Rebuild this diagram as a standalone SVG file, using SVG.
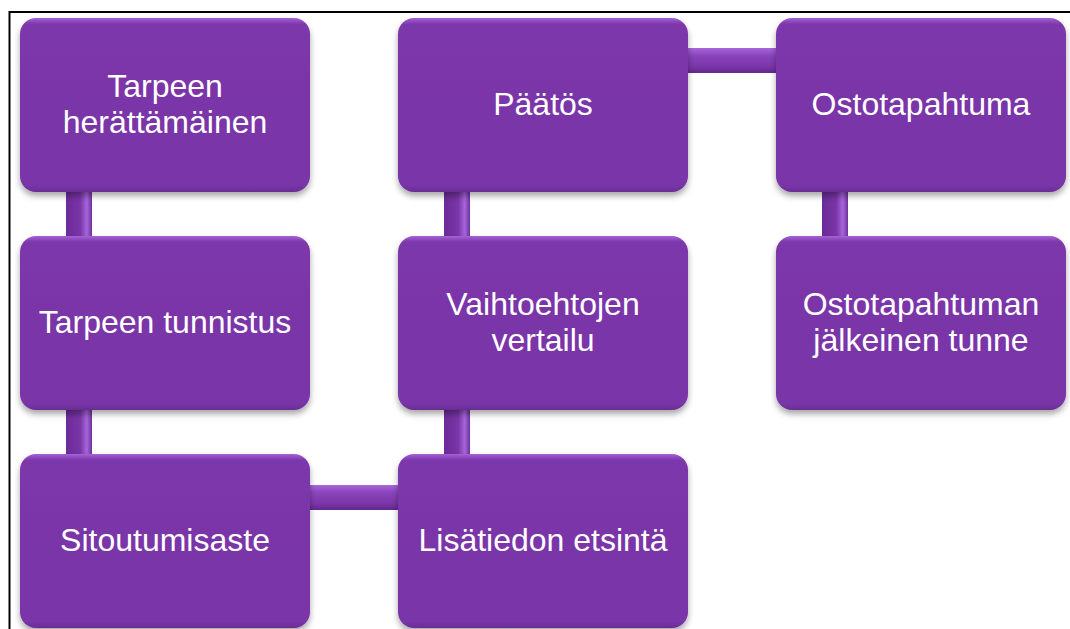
<svg xmlns="http://www.w3.org/2000/svg" width="1070" height="629" viewBox="0 0 1070 629">
  <defs>
    <linearGradient id="boxFill" x1="0" y1="0" x2="0" y2="1">
      <stop offset="0" stop-color="#a562d6"/>
      <stop offset="0.035" stop-color="#7c38ab"/>
      <stop offset="0.5" stop-color="#7a35a8"/>
      <stop offset="0.96" stop-color="#7a36a9"/>
      <stop offset="1" stop-color="#6a2c94"/>
    </linearGradient>
    <linearGradient id="vConn" x1="0" y1="0" x2="1" y2="0">
      <stop offset="0" stop-color="#6b2b97"/>
      <stop offset="0.55" stop-color="#7a35a8"/>
      <stop offset="0.8" stop-color="#a766dc"/>
      <stop offset="1" stop-color="#6f2f9a"/>
    </linearGradient>
    <linearGradient id="hConn" x1="0" y1="0" x2="0" y2="1">
      <stop offset="0" stop-color="#a766dc"/>
      <stop offset="0.3" stop-color="#8a45bc"/>
      <stop offset="0.75" stop-color="#7a35a8"/>
      <stop offset="1" stop-color="#62278c"/>
    </linearGradient>
    <filter id="shadow" x="-10%" y="-10%" width="120%" height="125%">
      <feGaussianBlur in="SourceAlpha" stdDeviation="3"/>
      <feOffset dx="0" dy="4" result="b"/>
      <feComponentTransfer><feFuncA type="linear" slope="0.35"/></feComponentTransfer>
      <feMerge><feMergeNode/><feMergeNode in="SourceGraphic"/></feMerge>
    </filter>
  </defs>
  <style>
    .box { fill: url(#boxFill); filter: url(#shadow); }
    .vc { fill: url(#vConn); }
    .hc { fill: url(#hConn); }
    .lbl { font-family: "Liberation Sans", Arial, sans-serif; font-size: 32px; fill: #ffffff; text-anchor: middle; }
    .frame { stroke: #000000; stroke-width: 2; fill: none; }
  </style>
  <rect width="1070" height="629" fill="#ffffff"/>
  <path class="frame" d="M9.5,629 L9.5,12 L1070,12"/>

  <g id="connectors">
    <rect class="vc" x="66" y="186" width="26" height="56"/>
    <rect class="vc" x="66" y="404" width="26" height="56"/>
    <rect class="hc" x="306" y="485" width="96" height="25"/>
    <rect class="vc" x="444" y="404" width="26" height="56"/>
    <rect class="vc" x="444" y="186" width="26" height="56"/>
    <rect class="hc" x="684" y="48" width="96" height="25"/>
    <rect class="vc" x="822" y="186" width="26" height="56"/>
  </g>

  <g id="n1">
    <rect class="box" x="20" y="18" width="290" height="174" rx="16"/>
    <text class="lbl" x="165" y="97">Tarpeen</text>
    <text class="lbl" x="165" y="133">herättämäinen</text>
  </g>
  <g id="n2">
    <rect class="box" x="20" y="236" width="290" height="174" rx="16"/>
    <text class="lbl" x="165" y="333">Tarpeen tunnistus</text>
  </g>
  <g id="n3">
    <rect class="box" x="20" y="454" width="290" height="174" rx="16"/>
    <text class="lbl" x="165" y="551">Sitoutumisaste</text>
  </g>
  <g id="n4">
    <rect class="box" x="398" y="454" width="290" height="174" rx="16"/>
    <text class="lbl" x="543" y="551">Lisätiedon etsintä</text>
  </g>
  <g id="n5">
    <rect class="box" x="398" y="236" width="290" height="174" rx="16"/>
    <text class="lbl" x="543" y="315">Vaihtoehtojen</text>
    <text class="lbl" x="543" y="351">vertailu</text>
  </g>
  <g id="n6">
    <rect class="box" x="398" y="18" width="290" height="174" rx="16"/>
    <text class="lbl" x="543" y="115">Päätös</text>
  </g>
  <g id="n7">
    <rect class="box" x="776" y="18" width="290" height="174" rx="16"/>
    <text class="lbl" x="921" y="115">Ostotapahtuma</text>
  </g>
  <g id="n8">
    <rect class="box" x="776" y="236" width="290" height="174" rx="16"/>
    <text class="lbl" x="921" y="315">Ostotapahtuman</text>
    <text class="lbl" x="921" y="351">jälkeinen tunne</text>
  </g>
</svg>
